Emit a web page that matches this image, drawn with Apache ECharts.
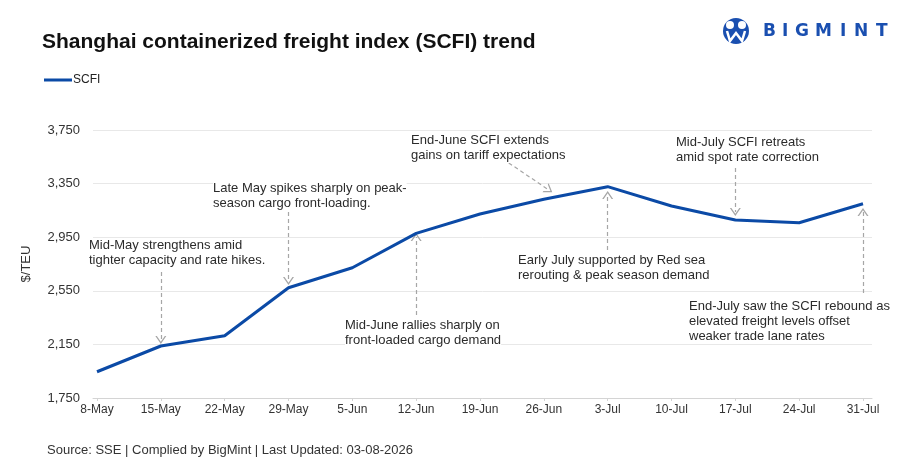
<!DOCTYPE html>
<html>
<head>
<meta charset="utf-8">
<title>SCFI trend</title>
<script src="https://cdn.jsdelivr.net/npm/echarts@6/dist/echarts.min.js"></script>
<style>
  html, body { margin: 0; padding: 0; background: #fff; }
  #main { width: 905px; height: 476px; }
</style>
</head>
<body>
<div id="main"></div>
<script>
// 数据
var weeks = ['8-May', '15-May', '22-May', '29-May', '5-Jun', '12-Jun', '19-Jun', '26-Jun', '3-Jul', '10-Jul', '17-Jul', '24-Jul', '31-Jul']
var scfi = [1946, 2138, 2215, 2573, 2722, 2979, 3123, 3233, 3327, 3183, 3078, 3058, 3200]
var yMin = 1750
var yMax = 3750
var yStep = 400

// 注释箭头: [起点x序号, 起点值, 终点x序号, 终点值]
var arrows = [
  [1, 2690, 1, 2183],
  [3, 3138, 3, 2623],
  [5, 2369, 5, 2951],
  [6.45, 3504, 7.08, 3302],
  [8, 2854, 8, 3265],
  [10, 3466, 10, 3138],
  [12, 2534, 12, 3138]
]

// 注释文字
var notes = [
  'Mid-May strengthens amid\ntighter capacity and rate hikes.',
  'Late May spikes sharply on peak-\nseason cargo front-loading.',
  'Mid-June rallies sharply on\nfront-loaded cargo demand',
  'End-June SCFI extends\ngains on tariff expectations',
  'Early July supported by Red sea\nrerouting & peak season demand',
  'Mid-July SCFI retreats\namid spot rate correction',
  'End-July saw the SCFI rebound as\nelevated freight levels offset\nweaker trade lane rates'
]
var notePos = [[89, 238], [213, 181], [345, 318], [411, 133], [518, 253], [676, 135], [689, 299]]

var FONT = 'Liberation Sans, Arial, sans-serif'
var BLUE = '#0b4aa6'

function noteGraphics () {
  return notes.map(function (t, i) {
    return {
      type: 'text',
      left: notePos[i][0],
      top: notePos[i][1],
      z: 100,
      style: { text: t, font: '13px ' + FONT, fill: '#2b2b2b', lineHeight: 15, backgroundColor: '#fff' }
    }
  })
}

// 标志
function logoGraphics () {
  var letters = ['B', 'I', 'G', 'M', 'I', 'N', 'T']
  var lx = [763, 782, 795, 815, 840, 854, 876]
  var out = letters.map(function (c, i) {
    return {
      type: 'text',
      x: lx[i],
      y: 32,
      style: { text: c, font: 'bold 17px DejaVu Sans, sans-serif', fill: '#1a4fb0', textVerticalAlign: 'middle' }
    }
  })
  out.push({ type: 'circle', shape: { cx: 736, cy: 31, r: 13 }, style: { fill: '#1a4fb0' } })
  out.push({ type: 'circle', shape: { cx: 730, cy: 25, r: 4 }, style: { fill: '#fff' } })
  out.push({ type: 'circle', shape: { cx: 742, cy: 25, r: 4 }, style: { fill: '#fff' } })
  out.push({ type: 'polyline', shape: { points: [[727, 31], [730, 41], [736, 33], [742, 41], [745, 31]] }, style: { stroke: '#fff', lineWidth: 2.5, fill: null } })
  return out
}

var myChart = echarts.init(document.getElementById('main'), null, { renderer: 'canvas' })

var option = {
  backgroundColor: '#fff',
  animation: false,
  title: {
    text: 'Shanghai containerized freight index (SCFI) trend',
    left: 37,
    top: 27,
    textStyle: { fontFamily: FONT, fontSize: 21, fontWeight: 'bold', color: '#111' }
  },
  legend: {
    left: 39,
    top: 69,
    icon: 'rect',
    itemWidth: 28,
    itemHeight: 3,
    itemGap: 10,
    textStyle: { fontFamily: FONT, fontSize: 12, color: '#222', padding: [0, 0, 0, -4] },
    data: ['SCFI']
  },
  // grid 0: 数据; grid 1: 网格线和底部轴线(比数据区稍宽)
  grid: [
    { left: 97, right: 42, top: 130, bottom: 78 },
    { left: 93, right: 33, top: 130, bottom: 78 }
  ],
  xAxis: [{
    type: 'category',
    gridIndex: 0,
    data: weeks,
    boundaryGap: false,
    axisLine: { show: false },
    axisTick: { show: true, length: 3, lineStyle: { color: '#d4d4d4' } },
    axisLabel: { fontFamily: FONT, fontSize: 12, color: '#333', margin: 6 }
  }, {
    // 注释箭头用的隐藏数值轴
    type: 'value',
    gridIndex: 0,
    min: 0,
    max: 12,
    show: false
  }, {
    type: 'value',
    gridIndex: 1,
    min: 0,
    max: 1,
    axisLine: { show: true, lineStyle: { color: '#d4d4d4', width: 1 } },
    axisTick: { show: false },
    axisLabel: { show: false },
    splitLine: { show: false }
  }],
  yAxis: [{
    type: 'value',
    gridIndex: 0,
    min: yMin,
    max: yMax,
    interval: yStep,
    name: '$/TEU',
    nameLocation: 'middle',
    nameGap: 64,
    nameTextStyle: { fontFamily: FONT, fontSize: 13, color: '#333' },
    axisLine: { show: false },
    axisTick: { show: false },
    splitLine: { show: false },
    axisLabel: {
      fontFamily: FONT,
      fontSize: 13,
      color: '#333',
      margin: 17,
      formatter: function (v) { return v.toLocaleString('en-US') }
    }
  }, {
    type: 'value',
    gridIndex: 1,
    min: yMin,
    max: yMax,
    interval: yStep,
    axisLine: { show: false },
    axisTick: { show: false },
    axisLabel: { show: false },
    splitLine: { lineStyle: { color: '#e8e8e8', width: 1 } }
  }],
  series: [{
    name: 'SCFI',
    type: 'line',
    data: scfi,
    symbol: 'none',
    z: 5,
    lineStyle: { color: BLUE, width: 3 },
    itemStyle: { color: BLUE }
  }, {
    name: 'notes',
    type: 'line',
    xAxisIndex: 1,
    data: [],
    silent: true,
    markLine: {
      silent: true,
      symbol: ['none', 'path://M0,10 L5,0 L10,10 L8.6,10 L5,2.8 L1.4,10 Z'],
      symbolSize: [11, 8],
      label: { show: false },
      lineStyle: { color: '#a6a6a6', type: [4, 3], width: 1.2 },
      data: arrows.map(function (a) {
        return [{ coord: [a[0], a[1]] }, { coord: [a[2], a[3]] }]
      })
    }
  }],
  graphic: noteGraphics().concat(logoGraphics()).concat([{
    type: 'text',
    left: 47,
    top: 444,
    style: { text: 'Source: SSE | Complied by BigMint | Last Updated: 03-08-2026', font: '13px ' + FONT, fill: '#333' }
  }])
}
myChart.setOption(option)
</script>
</body>
</html>
